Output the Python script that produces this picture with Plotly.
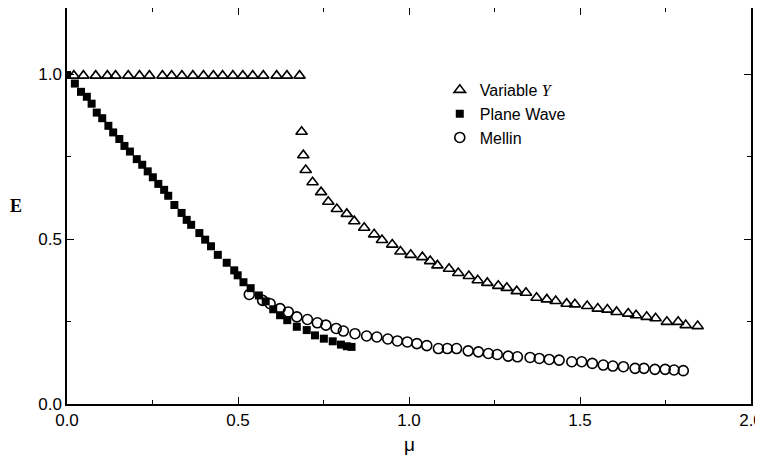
import plotly.graph_objects as go

# Variable Y (open triangles)
var_y_mu = [0.020, 0.048, 0.084, 0.118, 0.142, 0.179, 0.212, 0.241, 0.279, 0.306, 0.336,
            0.368, 0.399, 0.428, 0.455, 0.485, 0.514, 0.543, 0.574, 0.613, 0.643, 0.680,
            0.686, 0.691, 0.698, 0.718, 0.743, 0.764, 0.789, 0.818, 0.840, 0.869, 0.898,
            0.921, 0.951, 0.975, 1.005, 1.039, 1.062, 1.083, 1.117, 1.144, 1.175, 1.201,
            1.229, 1.261, 1.286, 1.315, 1.342, 1.373, 1.403, 1.429, 1.461, 1.485, 1.521,
            1.552, 1.580, 1.607, 1.641, 1.664, 1.695, 1.721, 1.754, 1.787, 1.809, 1.844]
var_y_E = [0.995, 0.995, 0.995, 0.995, 0.995, 0.995, 0.995, 0.995, 0.995, 0.995, 0.995,
           0.995, 0.995, 0.995, 0.995, 0.995, 0.995, 0.995, 0.995, 0.995, 0.995, 0.995,
           0.825, 0.754, 0.709, 0.672, 0.642, 0.613, 0.591, 0.576, 0.554, 0.534, 0.514,
           0.497, 0.483, 0.462, 0.452, 0.445, 0.433, 0.420, 0.410, 0.397, 0.388, 0.375,
           0.367, 0.358, 0.352, 0.342, 0.337, 0.322, 0.317, 0.312, 0.304, 0.302, 0.297,
           0.289, 0.286, 0.279, 0.274, 0.269, 0.264, 0.260, 0.249, 0.249, 0.239, 0.236]

# Plane Wave (filled squares)
pw_mu = [0.000, 0.023, 0.041, 0.058, 0.072, 0.087, 0.103, 0.121, 0.135, 0.153, 0.168,
         0.184, 0.204, 0.220, 0.236, 0.251, 0.267, 0.284, 0.296, 0.314, 0.335, 0.350,
         0.363, 0.387, 0.404, 0.421, 0.441, 0.467, 0.489, 0.499, 0.516, 0.537, 0.561,
         0.581, 0.603, 0.623, 0.644, 0.672, 0.701, 0.725, 0.751, 0.777, 0.801, 0.818, 0.832]
pw_E = [0.997, 0.971, 0.946, 0.931, 0.910, 0.883, 0.866, 0.843, 0.823, 0.803, 0.782,
        0.765, 0.742, 0.725, 0.705, 0.687, 0.667, 0.649, 0.631, 0.603, 0.579, 0.558,
        0.543, 0.518, 0.498, 0.478, 0.452, 0.428, 0.405, 0.390, 0.369, 0.351, 0.329,
        0.311, 0.287, 0.269, 0.254, 0.234, 0.224, 0.208, 0.198, 0.190, 0.180, 0.175, 0.173]

# Mellin (open circles)
mellin_mu = [0.533, 0.572, 0.594, 0.623, 0.647, 0.672, 0.703, 0.732, 0.757, 0.787, 0.808,
             0.842, 0.876, 0.906, 0.938, 0.966, 0.995, 1.023, 1.052, 1.086, 1.112, 1.139,
             1.173, 1.203, 1.232, 1.258, 1.290, 1.317, 1.354, 1.381, 1.410, 1.439, 1.476,
             1.505, 1.536, 1.568, 1.596, 1.627, 1.661, 1.687, 1.719, 1.749, 1.775, 1.802]
mellin_E = [0.332, 0.314, 0.304, 0.289, 0.279, 0.264, 0.256, 0.246, 0.239, 0.229, 0.221,
            0.213, 0.206, 0.203, 0.197, 0.191, 0.188, 0.183, 0.177, 0.168, 0.168, 0.168,
            0.161, 0.158, 0.153, 0.150, 0.145, 0.143, 0.141, 0.138, 0.135, 0.133, 0.128,
            0.128, 0.123, 0.118, 0.115, 0.113, 0.108, 0.108, 0.105, 0.105, 0.103, 0.101]

x_ticks = [0.0, 0.5, 1.0, 1.5, 2.0]
x_tick_labels = ["0.0", "0.5", "1.0", "1.5", "2.0"]
y_ticks = [0.0, 0.5, 1.0]
y_tick_labels = ["0.0", "0.5", "1.0"]

FONT = "Liberation Sans, Arial, sans-serif"

fig = go.Figure()
fig.add_trace(go.Scatter(
    x=var_y_mu, y=var_y_E, mode="markers",
    name="Variable <i><span style='font-family:Liberation Serif'>Y</span></i>",
    marker=dict(symbol="triangle-up-open", size=10, color="black", line=dict(width=1.6, color="black")),
))
fig.add_trace(go.Scatter(
    x=pw_mu, y=pw_E, mode="markers", name="Plane Wave",
    marker=dict(symbol="square", size=8, color="black", line=dict(width=0)),
))
fig.add_trace(go.Scatter(
    x=mellin_mu, y=mellin_E, mode="markers", name="Mellin",
    marker=dict(symbol="circle-open", size=10, color="black", line=dict(width=1.6, color="black")),
))

axis_common = dict(
    showgrid=False, zeroline=False, showline=True, linecolor="black", linewidth=1.5,
    mirror="ticks", ticks="inside", ticklen=7, tickwidth=1.2, tickcolor="black",
    automargin=False,
    tickfont=dict(family=FONT, size=17, color="black"),
    minor=dict(ticks="inside", ticklen=4, tickwidth=1.2, tickcolor="black", dtick=0.25, showgrid=False),
)

# page body adds an 8px offset; figure is sized to compensate
fig.update_layout(
    width=755, height=454,
    margin=dict(l=59, r=12, t=0, b=58, autoexpand=False),
    paper_bgcolor="white", plot_bgcolor="white",
    showlegend=True,
    legend=dict(x=0.545, y=0.836, xanchor="left", yanchor="top",
                font=dict(family=FONT, size=16, color="black"),
                bgcolor="rgba(0,0,0,0)", borderwidth=0, itemwidth=30, tracegroupgap=0),
    xaxis=dict(range=[0, 2], tickvals=x_ticks, ticktext=x_tick_labels,
               ticklabelstandoff=0, title=dict(text=""),
               **axis_common),
    yaxis=dict(range=[0, 1.2], tickvals=y_ticks, ticktext=y_tick_labels,
               ticklabelstandoff=0, title=dict(text=""),
               **axis_common),
    annotations=[
        dict(text="<b>E</b>", xref="paper", yref="paper", x=-0.075, y=0.5,
             xanchor="center", yanchor="middle", showarrow=False,
             font=dict(family="Liberation Serif, Times New Roman, serif", size=18, color="black")),
        dict(text="μ", xref="x", yref="paper", x=1.0, y=-0.1035,
             xanchor="center", yanchor="middle", showarrow=False,
             font=dict(family=FONT, size=19, color="black")),
    ],
)

fig.write_html("out.html")
